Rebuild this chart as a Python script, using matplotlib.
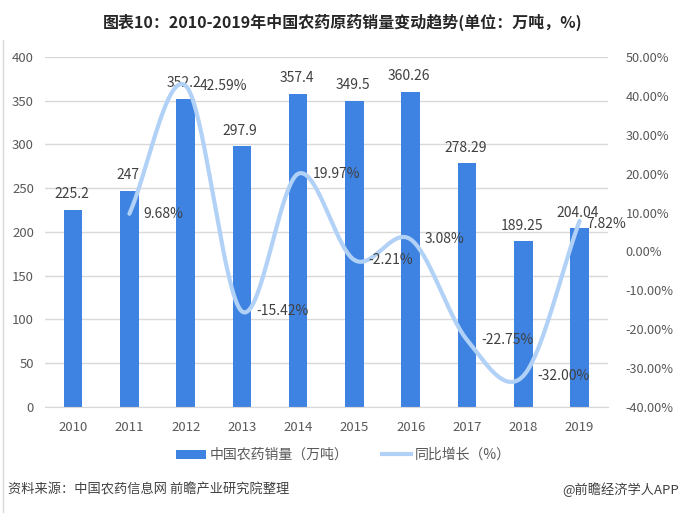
import numpy as np
import matplotlib
matplotlib.use("Agg")
import matplotlib.pyplot as plt
from matplotlib.lines import Line2D
from matplotlib.patches import Patch

plt.rcParams['font.family'] = ['Noto Sans CJK SC', 'DejaVu Sans']

years = ['2010', '2011', '2012', '2013', '2014', '2015', '2016', '2017', '2018', '2019']
sales = [225.2, 247, 352.2, 297.9, 357.4, 349.5, 360.26, 278.29, 189.25, 204.04]
growth = [None, 9.68, 42.59, -15.42, 19.97, -2.21, 3.08, -22.75, -32.00, 7.82]
sales_labels = ['225.2', '247', '352.2', '297.9', '357.4', '349.5', '360.26', '278.29', '189.25', '204.04']
growth_labels = ['', '9.68%', '42.59%', '-15.42%', '19.97%', '-2.21%', '3.08%', '-22.75%', '-32.00%', '7.82%']

bar_color = '#3f83e2'
line_color = '#b1d1f7'
txt = '#404040'

fig = plt.figure(figsize=(6.82, 5.13), dpi=100)
ax = fig.add_axes([0.066, 0.2066, 0.825, 0.6824])
ax2 = ax.twinx()

x = np.arange(len(years))
ax.bar(x, sales, width=0.33, color=bar_color, zorder=2)
ax.set_ylim(0, 400)
ax.set_yticks(range(0, 401, 50))
ax.set_xlim(-0.5, len(years) - 0.5)
ax.set_xticks(x)
ax.set_xticklabels(years)
ax.yaxis.grid(True, color='#d9d9d9', linewidth=1)
ax.set_axisbelow(True)
for s in ['top', 'right', 'left']:
    ax.spines[s].set_visible(False)
    ax2.spines[s].set_visible(False)
ax.spines['bottom'].set_color('#d9d9d9')
ax2.spines['bottom'].set_visible(False)
ax.tick_params(axis='both', length=0, labelsize=9.5, labelcolor='#595959')
ax.tick_params(axis='x', pad=10)
ax.tick_params(axis='y', pad=8)

for xi, v, lab in zip(x, sales, sales_labels):
    ax.text(xi - 0.03, v + 10, lab, ha='center', va='bottom', fontsize=10, color=txt, zorder=5)

# secondary axis
ax2.set_ylim(-40, 50)
ax2.set_yticks(range(-40, 51, 10))
ax2.set_yticklabels([f'{t:.2f}%' for t in range(-40, 51, 10)])
ax2.tick_params(axis='y', length=0, labelsize=9.2, labelcolor='#595959', pad=13)

# smoothed line (Catmull-Rom through the data points)
px = np.array([xi for xi, g in zip(x, growth) if g is not None], dtype=float)
py = np.array([g for g in growth if g is not None], dtype=float)
P = np.column_stack([px, py])
Pext = np.vstack([P[0] - (P[1] - P[0]), P, P[-1] + (P[-1] - P[-2])])
curve = []
ts = np.linspace(0, 1, 40)
for i in range(1, len(Pext) - 2):
    p0, p1, p2, p3 = Pext[i - 1], Pext[i], Pext[i + 1], Pext[i + 2]
    for t in ts:
        t2, t3 = t * t, t * t * t
        pt = 0.5 * ((2 * p1) + (-p0 + p2) * t + (2 * p0 - 5 * p1 + 4 * p2 - p3) * t2 + (-p0 + 3 * p1 - 3 * p2 + p3) * t3)
        curve.append(pt)
curve = np.array(curve)
ax2.plot(curve[:, 0], curve[:, 1], color=line_color, linewidth=3, solid_capstyle='round', zorder=3)

n = len(years)
for xi, g, lab in zip(x, growth, growth_labels):
    if g is None:
        continue
    off = 0.25 if xi < n - 1 else 0.12
    ax2.text(xi + off, g - (0.8 if xi == n - 1 else 0), lab, ha='left', va='center',
             fontsize=10, color=txt, zorder=5)

ax2.set_zorder(ax.get_zorder() + 1)
ax2.patch.set_visible(False)

fig.text(0.503, 0.957, '图表10：2010-2019年中国农药原药销量变动趋势(单位：万吨，%)', ha='center', va='center',
         fontsize=11.5, fontweight='bold', color='#262626')

handles = [Patch(facecolor=bar_color, edgecolor='none'),
           Line2D([0], [0], color=line_color, linewidth=3)]
fig.legend(handles, ['中国农药销量（万吨）', '同比增长（%）'], loc='center', bbox_to_anchor=(0.504, 0.113),
           ncol=2, frameon=False, fontsize=10, handlelength=2.1, handleheight=0.6, columnspacing=2.4,
           handletextpad=0.3, labelcolor='#595959')

fig.text(0.012, 0.045, '资料来源：中国农药信息网 前瞻产业研究院整理', ha='left', va='center', fontsize=9.5, color='#404040')
fig.text(0.995, 0.045, '@前瞻经济学人APP', ha='right', va='center', fontsize=9.5, color='#404040')

fig.add_artist(Line2D([0.005, 0.005], [0, 0.922], color='#d9d9d9', linewidth=1, transform=fig.transFigure))

fig.savefig('out.png', dpi=100)
